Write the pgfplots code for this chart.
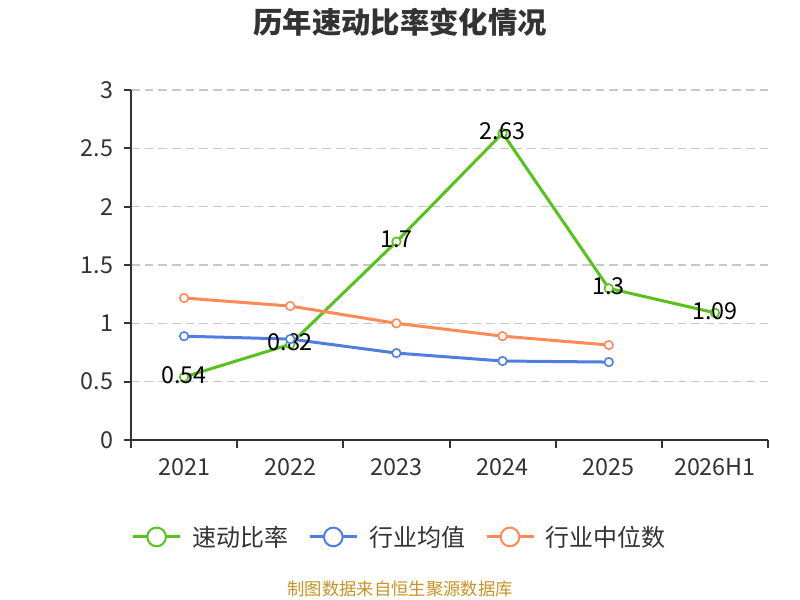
\documentclass[border=0pt]{standalone}
\usepackage{pgfplots}
\pgfplotsset{compat=1.18}
\usepackage{fontspec}
\setmainfont{Noto Sans CJK SC}
\definecolor{cgreen}{RGB}{88,194,28}
\definecolor{cblue}{RGB}{78,126,224}
\definecolor{corange}{RGB}{255,138,88}
\definecolor{ctext}{RGB}{51,51,51}
\definecolor{csrc}{RGB}{200,148,40}
\definecolor{cgrid}{RGB}{200,200,200}
\begin{document}
\begin{tikzpicture}
\path[use as bounding box, fill=white] (0,0) rectangle (600pt,450pt);
\node[font=\fontsize{22}{26}\selectfont\bfseries, text=ctext] at (300pt,433.5pt) {历年速动比率变化情况};
\node[font=\fontsize{13}{16}\selectfont, text=csrc] at (300pt,8pt) {制图数据来自恒生聚源数据库};
\begin{axis}[
  at={(98.25pt,120pt)}, anchor=south west,
  width=477.75pt, height=262.5pt, scale only axis,
  xmin=-0.5, xmax=5.5, ymin=0, ymax=3,
  axis x line=bottom, axis y line=left,
  axis line style={-, color=ctext, line width=1.5pt},
  xtick={0,1,2,3,4,5},
  xticklabels={2021,2022,2023,2024,2025,2026H1},
  major x tick style={draw=none},
  minor xtick={-0.5,0.5,1.5,2.5,3.5,4.5,5.5},
  minor x tick style={color=ctext, line width=1.5pt},
  minor tick length=6pt,
  ytick={0,0.5,1,1.5,2,2.5,3},
  yticklabels={0,0.5,1,1.5,2,2.5,3},
  major y tick style={color=ctext, line width=1.5pt},
  major tick length=5.5pt,
  tick align=outside,
  ymajorgrids,
  major grid style={cgrid, line width=1pt, dash pattern=on 6.5pt off 3.75pt},
  ticklabel style={font=\fontsize{17.5}{20}\selectfont, text=ctext},
  xticklabel style={yshift=-5pt},
  yticklabel style={xshift=-4.5pt},
  /pgf/number format/assume math mode=true,
  clip=false,
  legend columns=3,
  legend style={at={(axis description cs:0.4223,-0.277)}, anchor=center, draw=none, fill=none,
    font=\fontsize{18}{21}\selectfont, text=ctext,
    /tikz/every even column/.append style={column sep=13pt},
    /tikz/every odd column/.append style={column sep=6pt}},
  legend image code/.code={
    \draw[#1, mark=none] (0pt,0pt) -- (35.25pt,0pt);
    \draw[#1, mark=none, fill=white, line width=1.5pt] (17.6pt,0pt) circle (7pt);
  },
  every axis plot/.append style={line width=2.25pt, mark=*, mark size=3.2pt,
     mark options={fill=white, line width=1.2pt}},
]
\addplot[color=cgreen,
  nodes near coords, point meta=explicit symbolic,
  every node near coord/.append style={anchor=center, yshift=1.5pt, text=black, font=\fontsize{17.5}{20}\selectfont}]
  table[meta=label] {
x y label
0 0.54 0.54
1 0.82 0.82
2 1.70 1.7
3 2.63 2.63
4 1.30 1.3
5 1.09 1.09
};
\addlegendentry{速动比率}
\addplot[color=cblue] table {
x y
0 0.89
1 0.865
2 0.745
3 0.677
4 0.668
};
\addlegendentry{行业均值}
\addplot[color=corange] table {
x y
0 1.217
1 1.148
2 1.00
3 0.89
4 0.814
};
\addlegendentry{行业中位数}
\end{axis}
\end{tikzpicture}
\end{document}
